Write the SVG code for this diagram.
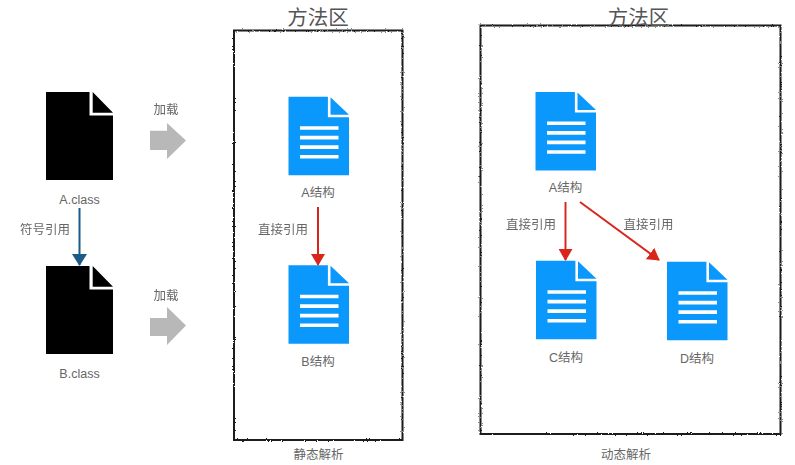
<svg xmlns="http://www.w3.org/2000/svg" width="795" height="465" viewBox="0 0 795 465">
<style>
text{font-family:"Liberation Sans","Noto Sans CJK SC",sans-serif;font-size:12.500px;fill:#666;text-anchor:middle}
.t{font-size:20.500px;fill:#555}
.box{fill:none;stroke:#1c1c1c;stroke-width:2;filter:url(#rough)}
.gray{fill:#b8b8b8}
.red{stroke:#d9281e;stroke-width:2;fill:none}
.navy{stroke:#1c5a87;stroke-width:2;fill:none}
</style>
<defs>
<filter id="rough" x="-5%" y="-5%" width="110%" height="110%"><feTurbulence type="fractalNoise" baseFrequency="0.8" numOctaves="2" seed="3"/><feDisplacementMap in="SourceGraphic" scale="2.400" xChannelSelector="R" yChannelSelector="G"/><feGaussianBlur stdDeviation="0.3"/></filter>
<filter id="soft"><feGaussianBlur stdDeviation="0.35"/></filter>
<symbol id="black" width="67" height="88" viewBox="0 0 67 88" overflow="visible"><path d="M0 0H43.500V23.500H67V88H0Z" fill="#000"/><path d="M46.700 0L67 20.700H46.700Z" fill="#000"/></symbol>
<symbol id="blue" width="61" height="79" viewBox="0 0 61 79" overflow="visible"><path d="M0 0H39.400V20.500H60.500V78.500H0Z" fill="#0a98fd"/><path d="M42 .5L60.500 18H42Z" fill="#0a98fd"/><path d="M11.500 29.500H50V33H11.500ZM11.500 39H50V42.700H11.500ZM11.500 48.500H50V52.200H11.500ZM11.500 58.200H50V61.800H11.500Z" fill="#fff"/></symbol>
<marker id="ar" markerWidth="12" markerHeight="14" refX="11" refY="7" orient="auto" markerUnits="userSpaceOnUse"><path d="M0 0L12 7L0 14Z" fill="#d9281e"/></marker>
<marker id="an" markerWidth="12" markerHeight="15" refX="11" refY="7.500" orient="auto" markerUnits="userSpaceOnUse"><path d="M0 0L12 7.500L0 15Z" fill="#1c5a87"/></marker>
</defs>
<rect width="795" height="465" fill="#fff"/>
<g id="regions">
<rect class="box" x="234" y="30.500" width="168.500" height="409.500"/>
<rect class="box" x="480.500" y="25.500" width="300" height="408.500"/>
<text class="t" x="318" y="25">方法区</text>
<text class="t" x="638.500" y="24.500">方法区</text>
<text x="318.500" y="459">静态解析</text>
<text x="626" y="459">动态解析</text>
</g>
<g id="connectors" filter="url(#soft)">
<line class="navy" x1="79.500" y1="208" x2="79.500" y2="265" marker-end="url(#an)"/>
<line class="red" x1="318" y1="207" x2="318" y2="265" marker-end="url(#ar)"/>
<line class="red" x1="565.500" y1="202" x2="565.500" y2="260" marker-end="url(#ar)"/>
<line class="red" x1="580" y1="202" x2="659" y2="260" marker-end="url(#ar)"/>
<path class="gray" d="M150 130.700H167V123L186 140.500L167 159V150H150Z"/>
<path class="gray" d="M150 318H167V307L186 325.500L167 345V336H150Z"/>
<text x="166" y="114">加载</text>
<text x="166" y="300">加载</text>
<text x="45" y="234">符号引用</text>
<text x="283" y="234">直接引用</text>
<text x="531" y="229">直接引用</text>
<text x="648.500" y="229">直接引用</text>
</g>
<g id="a-class"><use href="#black" x="46" y="92"/><text x="79.500" y="204">A.class</text></g>
<g id="b-class"><use href="#black" x="46" y="266"/><text x="79.500" y="378">B.class</text></g>
<g id="a-struct-static"><use href="#blue" x="288.500" y="96.700"/><text x="318" y="197">A结构</text></g>
<g id="b-struct-static"><use href="#blue" x="288.500" y="265.300"/><text x="318" y="366">B结构</text></g>
<g id="a-struct-dynamic"><use href="#blue" x="535.500" y="92"/><text x="565.500" y="192">A结构</text></g>
<g id="c-struct"><use href="#blue" x="536" y="260.700"/><text x="566" y="362">C结构</text></g>
<g id="d-struct"><use href="#blue" x="667" y="261.700"/><text x="697" y="363">D结构</text></g>
</svg>
